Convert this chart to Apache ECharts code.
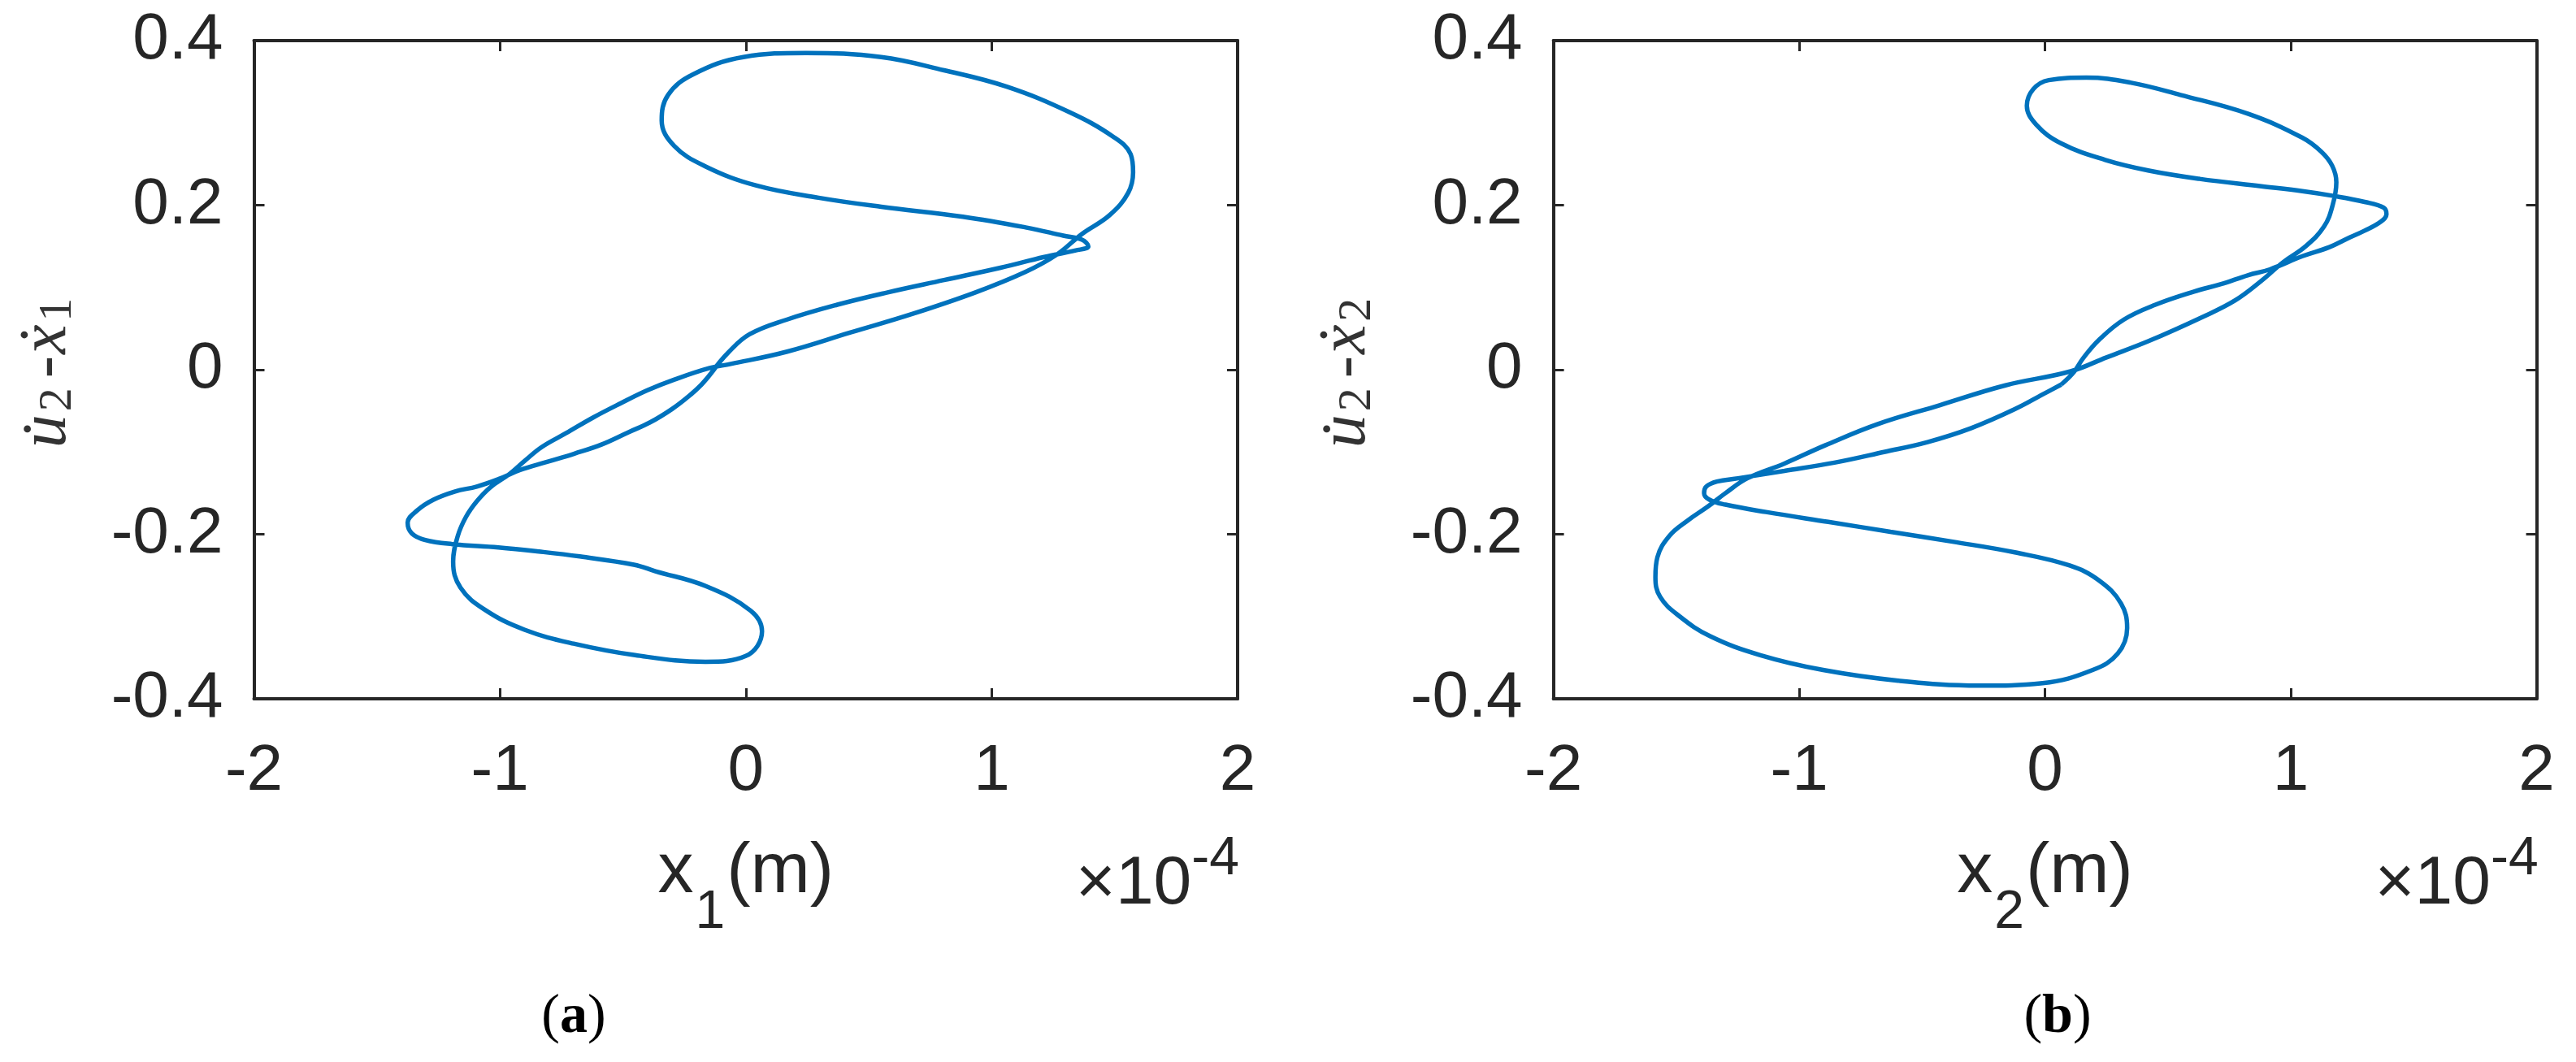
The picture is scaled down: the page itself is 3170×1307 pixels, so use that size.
<!DOCTYPE html>
<html><head><meta charset="utf-8">
<script src="https://cdn.jsdelivr.net/npm/echarts@6/dist/echarts.min.js"></script>
<style>html,body{margin:0;padding:0;background:#fff}#c{width:3170px;height:1307px}</style>
</head><body><div id="c"></div>
<script>
// x tick values (x 1e-4 m) and y tick values
const xTickMin = -2, xTickMax = 2, xTickStep = 1;
const yTickMin = -0.4, yTickMax = 0.4, yTickStep = 0.2;

// Panel (a): x1 (x1e-4 m) vs u2dot - x1dot  (closed orbit, in drawing order)
const aX = [-0.135,-0.074,0.015,0.168,0.372,0.577,0.806,1.036,1.214,1.342,1.393,1.367,1.291,1.138,0.883,0.551,0.296,0.041,-0.163,-0.291,-0.342,-0.316,-0.214,-0.010,0.245,0.551,0.806,1.061,1.316,1.495,1.565,1.575,1.555,1.480,1.367,1.265,1.138,0.934,0.679,0.423,0.168,-0.061,-0.147,-0.290,-0.400,-0.510,-0.620,-0.730,-0.830,-0.896,-0.962,-1.039,-1.094,-1.138,-1.171,-1.190,-1.160,-1.060,-0.900,-0.700,-0.450,-0.164,0.000,0.066,0.020,-0.163,-0.367,-0.455,-0.675,-0.841,-1.006,-1.193,-1.303,-1.358,-1.375,-1.336,-1.270,-1.182,-1.094,-1.006,-0.918,-0.808,-0.697,-0.587,-0.477,-0.389,-0.301,-0.235,-0.180];
const aY = [-0.002,0.020,0.043,0.061,0.079,0.094,0.109,0.124,0.137,0.145,0.150,0.158,0.163,0.173,0.186,0.198,0.209,0.224,0.247,0.272,0.303,0.334,0.359,0.380,0.385,0.380,0.364,0.344,0.313,0.283,0.262,0.240,0.215,0.188,0.165,0.140,0.119,0.094,0.068,0.045,0.022,0.007,0.002,-0.012,-0.025,-0.041,-0.058,-0.077,-0.094,-0.110,-0.127,-0.143,-0.160,-0.179,-0.202,-0.233,-0.265,-0.292,-0.316,-0.333,-0.347,-0.355,-0.348,-0.318,-0.293,-0.263,-0.245,-0.237,-0.227,-0.221,-0.216,-0.212,-0.207,-0.199,-0.186,-0.171,-0.158,-0.148,-0.142,-0.133,-0.122,-0.112,-0.102,-0.091,-0.076,-0.064,-0.048,-0.033,-0.018];

// Panel (b): x2 (x1e-4 m) vs u2dot - x2dot  (closed orbit, in drawing order)
const bX = [0.066,0.117,0.155,0.222,0.321,0.449,0.606,0.716,0.827,0.915,1.047,1.157,1.234,1.300,1.366,1.389,1.378,1.300,1.179,1.047,0.880,0.628,0.423,0.245,0.066,-0.036,-0.074,-0.048,0.015,0.168,0.347,0.551,0.827,1.047,1.124,1.168,1.185,1.170,1.135,1.060,0.970,0.880,0.772,0.640,0.423,0.250,0.104,-0.161,-0.427,-0.680,-0.895,-1.060,-1.211,-1.300,-1.370,-1.452,-1.528,-1.577,-1.585,-1.566,-1.490,-1.362,-1.158,-0.903,-0.597,-0.265,-0.010,0.194,0.296,0.334,0.309,0.219,0.100,-0.123,-0.376,-0.629,-0.882,-1.135,-1.300,-1.365,-1.387,-1.378,-1.335,-1.249,-1.060,-0.857,-0.655,-0.478,-0.300,-0.123,0.003];
const bY = [-0.018,-0.003,0.014,0.037,0.061,0.079,0.095,0.104,0.115,0.122,0.138,0.149,0.160,0.169,0.180,0.189,0.197,0.204,0.211,0.217,0.223,0.232,0.242,0.255,0.275,0.298,0.321,0.341,0.352,0.355,0.349,0.334,0.311,0.282,0.265,0.248,0.228,0.200,0.174,0.150,0.131,0.108,0.084,0.064,0.035,0.015,-0.002,-0.019,-0.043,-0.066,-0.092,-0.114,-0.132,-0.150,-0.166,-0.183,-0.202,-0.228,-0.252,-0.276,-0.299,-0.324,-0.347,-0.365,-0.378,-0.384,-0.381,-0.365,-0.345,-0.314,-0.284,-0.256,-0.238,-0.222,-0.209,-0.197,-0.185,-0.173,-0.164,-0.158,-0.150,-0.142,-0.136,-0.132,-0.123,-0.113,-0.100,-0.088,-0.071,-0.048,-0.028];

const panelLabels = ['a', 'b'];
const subIdx = ['1', '2'];

function closedPath(xs, ys) {
  const pts = xs.map((x, i) => [x, ys[i]]);
  pts.push([xs[0], ys[0]]);
  return pts;
}

const AX = '#262626';
const grids = [
  {left: 312.5, top: 50, width: 1210.5, height: 810},
  {left: 1911.6, top: 50, width: 1210, height: 810}
];

function axisLine() { return {show: true, onZero: false, lineStyle: {color: AX, width: 4}}; }
function axisTick() { return {show: true, inside: true, length: 13, lineStyle: {color: AX, width: 3}}; }

const xAxes = [], yAxes = [];
grids.forEach((g, gi) => {
  xAxes.push({
    gridIndex: gi, type: 'value', min: xTickMin, max: xTickMax, interval: xTickStep, position: 'bottom',
    axisLine: axisLine(), axisTick: axisTick(), splitLine: {show: false},
    axisLabel: {margin: 50, fontSize: 80, color: AX, fontFamily: 'Liberation Sans'},
    name: '{v|x}{s|' + subIdx[gi] + '}{v|(m)}', nameLocation: 'middle', nameGap: 131,
    nameTextStyle: {rich: {
      v: {fontSize: 88, fontFamily: 'Liberation Sans', color: AX},
      s: {fontSize: 66, fontFamily: 'Liberation Sans', color: AX, padding: [100, 2, 0, 2]}
    }}
  });
  xAxes.push({
    gridIndex: gi, type: 'value', min: xTickMin, max: xTickMax, interval: xTickStep, position: 'top',
    axisLine: axisLine(), axisTick: axisTick(), splitLine: {show: false}, axisLabel: {show: false}
  });
  yAxes.push({
    gridIndex: gi, type: 'value', min: yTickMin, max: yTickMax, interval: yTickStep, position: 'left',
    axisLine: axisLine(), axisTick: axisTick(), splitLine: {show: false},
    axisLabel: {margin: 38, fontSize: 80, color: AX, fontFamily: 'Liberation Sans'},
    name: '{m|u\u0307}{s|2}{h|-}{m|x\u0307}{s|' + subIdx[gi] + '}', nameLocation: 'middle', nameGap: 212,
    nameTextStyle: {rich: {
      m: {fontSize: 82, fontFamily: 'Liberation Serif', fontStyle: 'italic', color: '#333'},
      s: {fontSize: 58, fontFamily: 'Liberation Serif', color: '#333', padding: [26, 8, 0, 4]},
      h: {fontSize: 82, fontFamily: 'Liberation Serif', color: '#333', padding: [0, 2, 0, 4]}
    }}
  });
  yAxes.push({
    gridIndex: gi, type: 'value', min: yTickMin, max: yTickMax, interval: yTickStep, position: 'right',
    axisLine: axisLine(), axisTick: axisTick(), splitLine: {show: false}, axisLabel: {show: false}
  });
});

const series = [[aX, aY], [bX, bY]].map((d, gi) => ({
  type: 'line', xAxisIndex: gi * 2, yAxisIndex: gi * 2,
  data: closedPath(d[0], d[1]), showSymbol: false, smooth: 0.4,
  lineStyle: {color: '#0072BD', width: 5.5}, animation: false
}));

const graphic = [];
grids.forEach((g, gi) => {
  graphic.push({
    type: 'text', x: g.left + g.width + 2, y: 1089,
    style: {
      text: '{m|\u00d710}{e|-4}', align: 'right', verticalAlign: 'middle',
      rich: {
        m: {fontSize: 84, fontFamily: 'Liberation Sans', fill: AX},
        e: {fontSize: 66, fontFamily: 'Liberation Sans', fill: AX, padding: [0, 0, 62, 0]}
      }
    }
  });
});
const labelCenters = [706, 2532];
panelLabels.forEach((p, i) => {
  graphic.push({
    type: 'text', x: labelCenters[i], y: 1252,
    style: {
      text: '{p|(}{b|' + p + '}{p|)}', align: 'center', verticalAlign: 'middle',
      rich: {
        p: {fontSize: 68, fontFamily: 'Liberation Serif', fill: '#000'},
        b: {fontSize: 68, fontFamily: 'Liberation Serif', fontWeight: 'bold', fill: '#000'}
      }
    }
  });
});

const chart = echarts.init(document.getElementById('c'), null, {renderer: 'canvas'});
chart.setOption({
  animation: false,
  backgroundColor: '#ffffff',
  grid: grids,
  xAxis: xAxes,
  yAxis: yAxes,
  series: series,
  graphic: graphic
});
</script></body></html>
